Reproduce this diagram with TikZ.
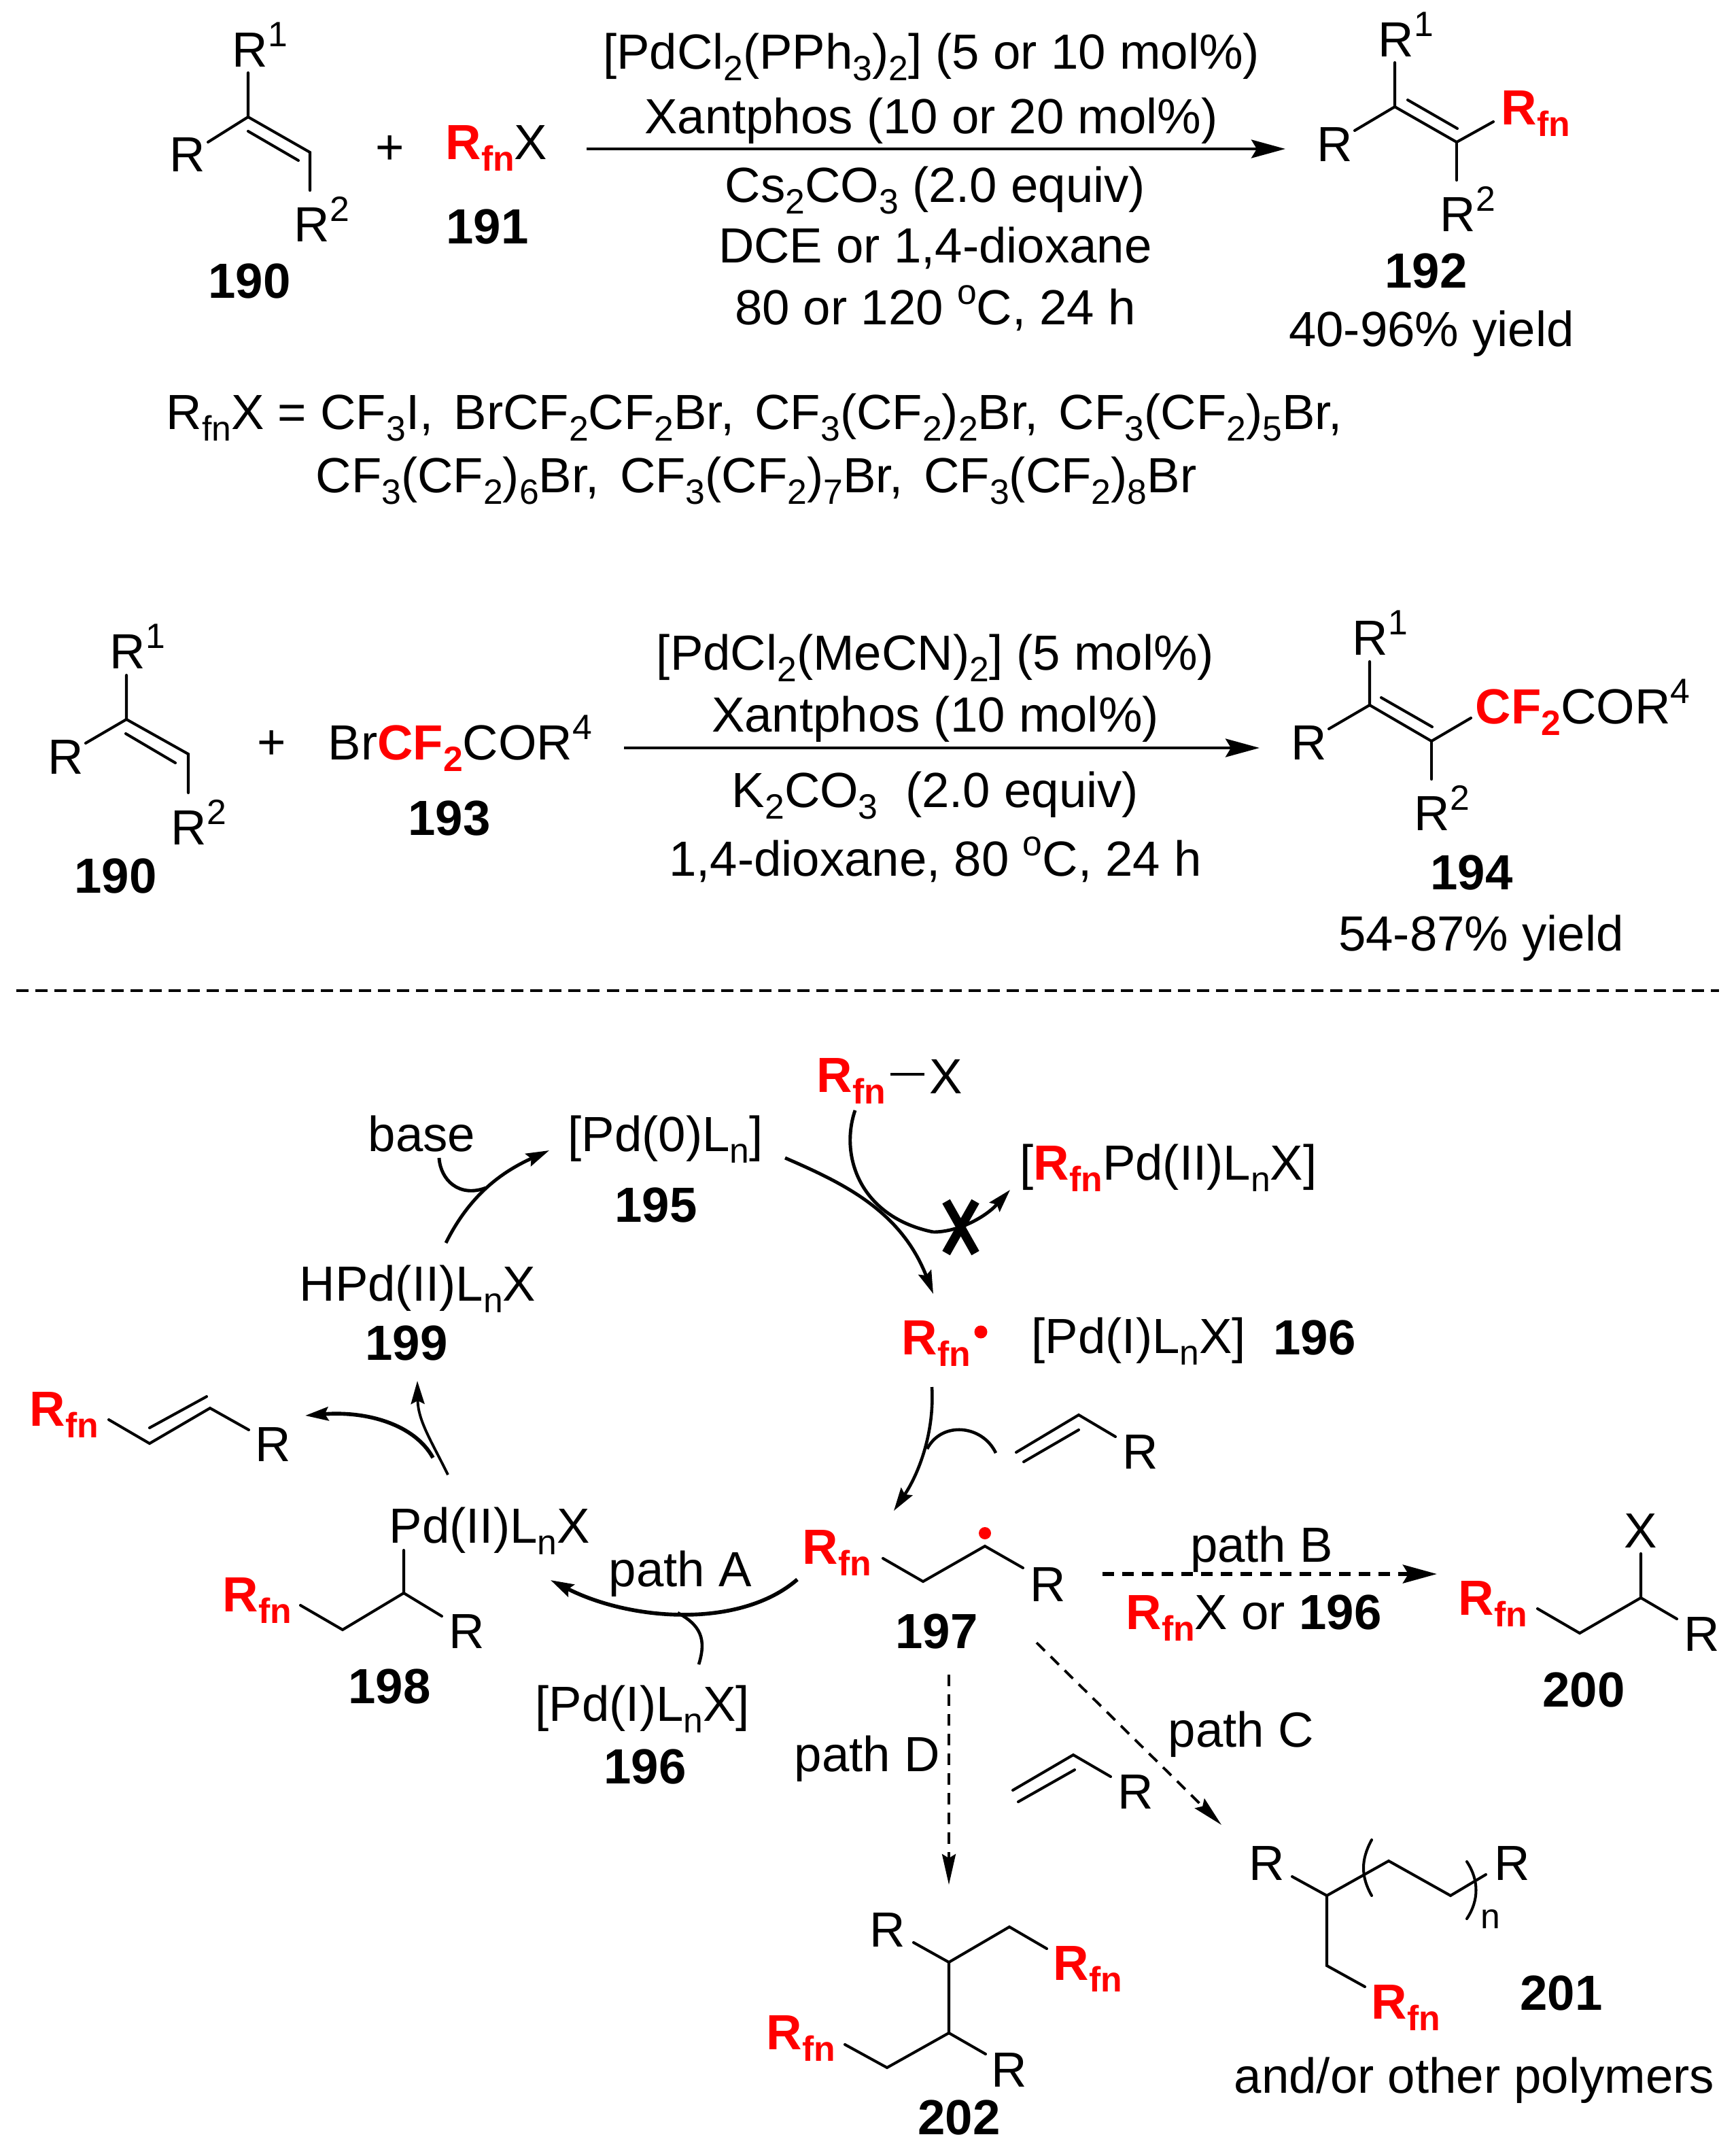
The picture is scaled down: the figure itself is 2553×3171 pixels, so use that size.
\documentclass[tikz,border=0pt]{standalone}
\usepackage{fontspec}
\setmainfont{Liberation Sans}
\usetikzlibrary{arrows.meta}
\definecolor{fnred}{RGB}{255,0,0}
\newcommand{\chemsize}{\fontsize{20.65}{24}\selectfont}
\newcommand{\smallsize}{\fontsize{14.7}{16}\selectfont}
\newcommand{\sub}[1]{\raisebox{-0.24em}{\smallsize #1}}
\newcommand{\sups}[1]{\raisebox{0.4em}{\smallsize #1}}
\newcommand{\Rfn}{\textcolor{fnred}{\textbf{R\sub{fn}}}}
\newcommand{\CFtwo}{\textcolor{fnred}{\textbf{CF\sub{2}}}}
\newcommand{\gap}{\hspace{0.14em}}
\tikzset{
  >={Stealth[length=0.34cm,width=0.2cm,inset=0.05cm]},
  lbl/.style={inner sep=0pt,font=\chemsize},
  chem/.style={lbl,anchor=base west,xshift=-0.05cm},
  mid/.style={lbl,anchor=base},
  bond/.style={draw,line width=1.15pt,line cap=round,line join=miter},
  rxn/.style={line width=1.2pt,-{Stealth[length=0.5cm,width=0.27cm,inset=0.08cm]}},
  curve/.style={line width=1.1pt,->},
  thickcurve/.style={line width=1.6pt,->},
  side/.style={line width=1.1pt},
  dasharrow/.style={line width=1.1pt,-{Stealth[length=0.45cm,width=0.2cm,inset=0.06cm]},dash pattern=on 0.17cm off 0.12cm}
}
\begin{document}
\begin{tikzpicture}[x=0.01cm,y=-0.01cm]
\useasboundingbox (0,0) rectangle (2553,3171);
% top reaction
\node[chem] (ra1) at (346,98) {R\sups{1}};
\node[mid] (ra) at (276,252) {R};
\node[chem] (ra2) at (437,355) {R\sups{2}};
\draw[bond] (365,107) -- (365,172) -- (306,209);
\draw[bond] (365,172) -- (456,224) -- (456,280);
\draw[bond] (365,193) -- (439,236);
\node[mid] (n190) at (367,438) {\textbf{190}};
\node[mid] (plusa) at (574,241) {+};
\node[chem] (rfnx) at (660,234) {\Rfn X};
\node[mid] (n191) at (717,358) {\textbf{191}};
\coordinate (rxna) at (863,219);
\coordinate (rxnb) at (1891,219);
\draw[rxn] (rxna) -- (rxnb);
\node[mid] (conda) at (1370,101) {[PdCl\sub{2}(PPh\sub{3})\sub{2}] (5 or 10 mol\%)};
\node[mid] (condb) at (1370,196) {Xantphos (10 or 20 mol\%)};
\node[mid] (condc) at (1376,297) {Cs\sub{2}CO\sub{3} (2.0 equiv)};
\node[mid] (condd) at (1376,386) {DCE or 1,4-dioxane};
\node[mid] (conde) at (1376,477) {80 or 120 \sups{o}C, 24 h};
\node[chem] (rb1) at (2032,83) {R\sups{1}};
\node[chem] (rb) at (1942,237) {R};
\node[chem] (rfnb) at (2213,183) {\Rfn};
\node[chem] (rb2) at (2123,340) {R\sups{2}};
\draw[bond] (2052,92) -- (2052,157) -- (1993,192);
\draw[bond] (2052,157) -- (2143,209) -- (2197,179);
\draw[bond] (2143,209) -- (2143,265);
\draw[bond] (2071,147) -- (2144,189);
\node[mid] (n192) at (2098,423) {\textbf{192}};
\node[mid] (yielda) at (2106,509) {40-96\% yield};
\node[chem] (lista) at (249,631) {R\sub{fn}X = CF\sub{3}I,\gap{} BrCF\sub{2}CF\sub{2}Br,\gap{} CF\sub{3}(CF\sub{2})\sub{2}Br,\gap{} CF\sub{3}(CF\sub{2})\sub{5}Br,};
\node[chem] (listb) at (469,724) {CF\sub{3}(CF\sub{2})\sub{6}Br,\gap{} CF\sub{3}(CF\sub{2})\sub{7}Br,\gap{} CF\sub{3}(CF\sub{2})\sub{8}Br};
% second reaction
\node[chem] (rc1) at (166,983) {R\sups{1}};
\node[chem] (rc) at (75,1138) {R};
\node[chem] (rc2) at (256,1242) {R\sups{2}};
\draw[bond] (186,993) -- (186,1058) -- (126,1093);
\draw[bond] (186,1058) -- (277,1109) -- (277,1166);
\draw[bond] (185,1079) -- (258,1122);
\node[mid] (n190b) at (170,1313) {\textbf{190}};
\node[mid] (plusb) at (400,1116) {+};
\node[chem] (brcf) at (487,1117) {Br\CFtwo COR\sups{4}};
\node[mid] (n193) at (661,1228) {\textbf{193}};
\coordinate (rxnc) at (918,1100);
\coordinate (rxnd) at (1853,1100);
\draw[rxn] (rxnc) -- (rxnd);
\node[mid] (condf) at (1376,985) {[PdCl\sub{2}(MeCN)\sub{2}] (5 mol\%)};
\node[mid] (condg) at (1376,1076) {Xantphos (10 mol\%)};
\node[mid] (condh) at (1376,1187) {K\sub{2}CO\sub{3}\ \ (2.0 equiv)};
\node[mid] (condi) at (1376,1288) {1,4-dioxane, 80 \sups{o}C, 24 h};
\node[chem] (rd1) at (1994,963) {R\sups{1}};
\node[chem] (rd) at (1904,1117) {R};
\node[chem] (cfd) at (2175,1064) {\CFtwo COR\sups{4}};
\node[chem] (rd2) at (2085,1221) {R\sups{2}};
\draw[bond] (2015,973) -- (2015,1037) -- (1955,1072);
\draw[bond] (2015,1037) -- (2106,1090) -- (2164,1056);
\draw[bond] (2106,1090) -- (2106,1146);
\draw[bond] (2032,1026) -- (2107,1069);
\node[mid] (n194) at (2165,1308) {\textbf{194}};
\node[mid] (yieldb) at (2179,1398) {54-87\% yield};
\coordinate (sepa) at (24,1457);
\coordinate (sepb) at (2529,1457);
\draw[line width=1.1pt,dash pattern=on 0.18cm off 0.1cm] (sepa) -- (sepb);
% catalytic cycle
\node[chem] (rfnxa) at (1206,1606) {\Rfn};
\draw[line width=1.4pt] (1310,1580) -- (1360,1580);
\node[chem] (xa) at (1372,1608) {X};
\node[chem] (pdzero) at (840,1693) {[Pd(0)L\sub{n}]};
\node[mid] (n195) at (965,1797) {\textbf{195}};
\node[chem] (basen) at (546,1693) {base};
\node[chem] (rfnpd) at (1505,1735) {[\Rfn Pd(II)L\sub{n}X]};
\node[chem] (rfnrad) at (1331,1992) {\Rfn};
\fill[fnred] (1443,1959) circle (9.5);
\node[chem] (pdone) at (1522,1990) {[Pd(I)L\sub{n}X]};
\node[mid] (n196) at (1934,1992) {\textbf{196}};
\node[chem] (hpd) at (445,1913) {HPd(II)L\sub{n}X};
\node[mid] (n199) at (598,2000) {\textbf{199}};
% oxidative addition arrows
\coordinate (pda) at (1155,1703);
\coordinate (pdb) at (1373,1903);
\draw[curve,line width=1.4pt] (pda) .. controls (1240,1740) and (1325,1780) .. (pdb);
\coordinate (blocka) at (1258,1633);
\coordinate (blockb) at (1373,1812);
\coordinate (blockc) at (1486,1750);
\draw[side,line width=1.4pt] (blocka) .. controls (1235,1700) and (1265,1790) .. (blockb);
\draw[curve,line width=1.4pt] (blockb) .. controls (1410,1812) and (1450,1790) .. (blockc);
\draw[line width=3.7pt] (1392,1767) -- (1435,1843) (1435,1767) -- (1392,1843);
% base arrow
\coordinate (basea) at (646,1703);
\coordinate (baseb) at (715,1747);
\coordinate (cyca) at (656,1828);
\coordinate (cycb) at (808,1692);
\draw[side,line width=1.4pt] (basea) .. controls (648,1735) and (675,1762) .. (baseb);
\draw[curve,line width=1.4pt] (cyca) .. controls (690,1760) and (735,1725) .. (cycb);
% left side
\coordinate (cycc) at (659,2169);
\coordinate (cycd) at (614,2031);
\coordinate (cyce) at (637,2144);
\coordinate (cycf) at (449,2082);
\draw[curve] (cycc) .. controls (635,2120) and (615,2090) .. (cycd);
\draw[thickcurve] (cyce) .. controls (610,2095) and (540,2075) .. (cycf);
\node[chem] (rfnl) at (48,2097) {\Rfn};
\node[chem] (rl) at (380,2149) {R};
\draw[bond] (160,2088) -- (220,2123) -- (309,2071) -- (366,2103);
\draw[bond] (220,2100) -- (304,2054);
% radical addition
\coordinate (rada) at (1371,2040);
\coordinate (radb) at (1315,2222);
\coordinate (radc) at (1465,2137);
\coordinate (radd) at (1364,2131);
\draw[curve,line width=1.3pt] (rada) .. controls (1375,2110) and (1350,2170) .. (radb);
\draw[side,line width=1.3pt] (radc) .. controls (1445,2095) and (1385,2090) .. (radd);
\node[chem] (re) at (1656,2160) {R};
\draw[bond] (1495,2136) -- (1587,2081) -- (1641,2113);
\draw[bond] (1506,2150) -- (1587,2103);
% compound 197
\node[chem] (rfn197) at (1185,2300) {\Rfn};
\node[chem] (r197) at (1520,2355) {R};
\draw[bond] (1299,2292) -- (1358,2326) -- (1449,2274) -- (1505,2306);
\fill[fnred] (1449,2255) circle (9);
\node[mid] (n197) at (1378,2424) {\textbf{197}};
% compound 198, path A
\node[chem] (pdtwo) at (577,2269) {Pd(II)L\sub{n}X};
\node[chem] (rfn198) at (332,2370) {\Rfn};
\node[chem] (r198) at (665,2424) {R};
\draw[bond] (594,2280) -- (594,2343) -- (504,2397) -- (442,2361);
\draw[bond] (594,2343) -- (650,2377);
\node[mid] (n198) at (573,2505) {\textbf{198}};
\node[chem] (patha) at (900,2333) {path A};
\coordinate (paa) at (1173,2323);
\coordinate (pab) at (810,2324);
\coordinate (pac) at (1028,2448);
\coordinate (pad) at (997,2372);
\draw[thickcurve] (paa) .. controls (1090,2395) and (930,2385) .. (pab);
\draw[side,line width=1.3pt] (pac) .. controls (1040,2410) and (1030,2390) .. (pad);
\node[chem] (pdb) at (792,2531) {[Pd(I)L\sub{n}X]};
\node[mid] (n196b) at (949,2623) {\textbf{196}};
% path B, compound 200
\coordinate (pba) at (1622,2315);
\coordinate (pbb) at (2114,2315);
\draw[dasharrow,line width=1.6pt,-{Stealth[length=0.5cm,width=0.27cm,inset=0.08cm]}] (pba) -- (pbb);
\node[mid] (pathb) at (1856,2297) {path B};
\node[chem] (rfnxb) at (1661,2396) {\Rfn X or \textbf{196}};
\node[mid] (x200) at (2414,2276) {X};
\node[chem] (rfn200) at (2150,2375) {\Rfn};
\node[chem] (r200) at (2482,2428) {R};
\draw[bond] (2414,2285) -- (2414,2350) -- (2324,2402) -- (2262,2366);
\draw[bond] (2414,2350) -- (2467,2381);
\node[mid] (n200) at (2330,2510) {\textbf{200}};
% path D, path C
\coordinate (pda2) at (1396,2463);
\coordinate (pdb2) at (1396,2772);
\draw[dasharrow] (pda2) -- (pdb2);
\node[chem] (pathd) at (1173,2605) {path D};
\coordinate (pca) at (1525,2416);
\coordinate (pcb) at (1797,2684);
\draw[dasharrow] (pca) -- (pcb);
\node[chem] (pathc) at (1723,2569) {path C};
\node[chem] (rf) at (1649,2660) {R};
\draw[bond] (1490,2633) -- (1579,2581) -- (1634,2613);
\draw[bond] (1498,2650) -- (1581,2603);
% compound 201
\node[chem] (ra201) at (1842,2765) {R};
\node[chem] (rb201) at (2203,2765) {R};
\draw[bond] (1901,2760) -- (1952,2788) -- (2043,2737) -- (2134,2788) -- (2186,2757);
\draw[bond] (1952,2788) -- (1952,2891) -- (2008,2922);
\draw[bond] (2018,2706) .. controls (2002,2735) and (2002,2760) .. (2018,2788);
\draw[bond] (2158,2738) .. controls (2176,2765) and (2176,2795) .. (2158,2822);
\node[chem,font=\smallsize] (n201n) at (2183,2836) {n};
\node[chem] (rfn201) at (2022,2969) {\Rfn};
\node[mid] (n201) at (2297,2956) {\textbf{201}};
\node[chem] (others) at (1820,3078) {and/or other polymers};
% compound 202
\node[chem] (ra202) at (1284,2863) {R};
\node[chem] (rfna202) at (1554,2912) {\Rfn};
\draw[bond] (1344,2857) -- (1396,2886) -- (1485,2834) -- (1540,2866);
\draw[bond] (1396,2886) -- (1396,2990) -- (1305,3041) -- (1243,3007);
\draw[bond] (1396,2990) -- (1450,3021);
\node[chem] (rfnb202) at (1132,3014) {\Rfn};
\node[chem] (rb202) at (1463,3069) {R};
\node[mid] (n202) at (1411,3139) {\textbf{202}};
\end{tikzpicture}
\end{document}
